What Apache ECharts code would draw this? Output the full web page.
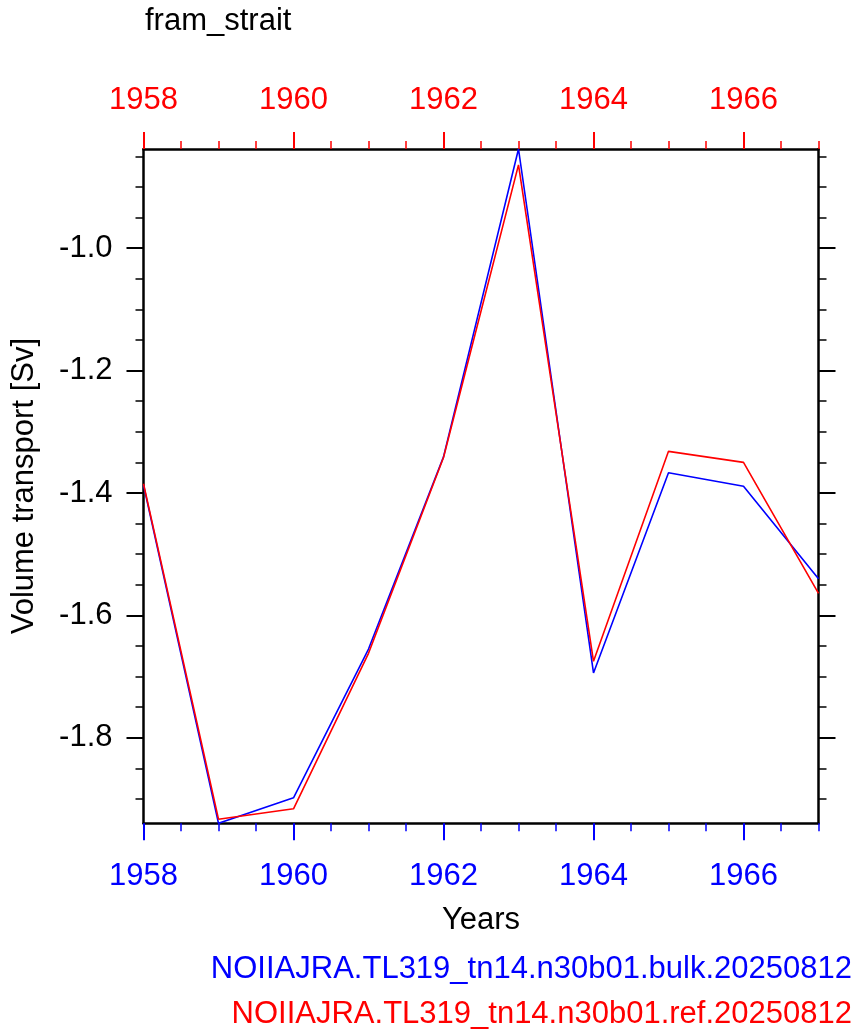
<!DOCTYPE html>
<html>
<head>
<meta charset="utf-8">
<script src="https://cdn.jsdelivr.net/npm/echarts@6/dist/echarts.min.js"></script>
<style>
  html, body { margin: 0; padding: 0; background: #fff; }
  #chart { width: 858px; height: 1035px; }
</style>
</head>
<body>
<div id="chart"></div>
<script>
// 年份
var years = [1958, 1959, 1960, 1961, 1962, 1963, 1964, 1965, 1966, 1967];
// bulk run (blue)
var bulkData = [-1.387, -1.9397, -1.898, -1.655, -1.341, -0.838, -1.694, -1.367, -1.389, -1.540];
// ref run (red)
var refData = [-1.385, -1.933, -1.916, -1.662, -1.342, -0.864, -1.675, -1.332, -1.350, -1.564];
// tick labels
var xMajorTicks = [1958, 1960, 1962, 1964, 1966];
var xMinorTicks = [1958.5, 1959, 1959.5, 1960.5, 1961, 1961.5, 1962.5, 1963, 1963.5, 1964.5, 1965, 1965.5, 1966.5, 1967];
var yMajorTicks = [-1.8, -1.6, -1.4, -1.2, -1.0];
var yMinorTicks = [-1.9, -1.85, -1.75, -1.7, -1.65, -1.55, -1.5, -1.45, -1.35, -1.3, -1.25, -1.15, -1.1, -1.05, -0.95, -0.9, -0.85];
var bulkName = 'NOIIAJRA.TL319_tn14.n30b01.bulk.20250812';
var refName = 'NOIIAJRA.TL319_tn14.n30b01.ref.20250812';

(function () {
  var chartDom = document.getElementById('chart');
  var myChart = echarts.init(chartDom);
  var font = "'Liberation Sans', Helvetica, Arial, sans-serif";
  var fs = 31;
  var yMin = Math.min.apply(null, bulkData.concat(refData));
  var yMax = Math.max.apply(null, bulkData.concat(refData));
  var xMin = years[0], xMax = years[years.length - 1];

  function pairs(arr) {
    return years.map(function (y, i) { return [y, arr[i]]; });
  }

  function xAxisDef(pos, color, len, ticks, labels, line, margin) {
    return {
      type: 'value', position: pos, min: xMin, max: xMax,
      splitLine: { show: false },
      axisLine: { show: line, onZero: false, lineStyle: { color: '#000', width: 2.5 } },
      axisTick: { show: true, length: len, customValues: ticks, lineStyle: { color: color, width: len > 10 ? 2 : 1.5 } },
      axisLabel: labels ? {
        show: true, customValues: ticks, margin: margin, color: color, fontSize: fs, fontFamily: font,
        formatter: function (v) { return String(Math.round(v)); }
      } : { show: false }
    };
  }

  function yAxisDef(pos, len, ticks, labels, line) {
    return {
      type: 'value', position: pos, min: yMin, max: yMax,
      splitLine: { show: false },
      axisLine: { show: line, onZero: false, lineStyle: { color: '#000', width: 2.5 } },
      axisTick: { show: true, length: len, customValues: ticks, lineStyle: { color: '#000', width: len > 10 ? 2 : 1.5 } },
      axisLabel: labels ? {
        show: true, customValues: ticks, margin: 31, color: '#000', fontSize: fs, fontFamily: font,
        formatter: function (v) { return v.toFixed(1); }
      } : { show: false }
    };
  }

  var bottomMajor = xAxisDef('bottom', '#0000ff', 17, xMajorTicks, true, true, 38);
  bottomMajor.name = 'Years';
  bottomMajor.nameLocation = 'middle';
  bottomMajor.nameGap = 82;
  bottomMajor.nameTextStyle = { color: '#000', fontSize: fs, fontFamily: font };

  var leftMajor = yAxisDef('left', 17, yMajorTicks, true, true);
  leftMajor.name = 'Volume transport [Sv]';
  leftMajor.nameLocation = 'middle';
  leftMajor.nameGap = 104;
  leftMajor.nameTextStyle = { color: '#000', fontSize: fs, fontFamily: font };

  var option = {
    backgroundColor: '#fff',
    animation: false,
    title: [
      { text: 'fram_strait', left: 140, top: 1, textStyle: { color: '#000', fontSize: fs, fontWeight: 'normal', fontFamily: font } },
      { text: bulkName, right: 1, top: 949, textStyle: { color: '#0000ff', fontSize: fs, fontWeight: 'normal', fontFamily: font } },
      { text: refName, right: 1, top: 994, textStyle: { color: '#ff0000', fontSize: fs, fontWeight: 'normal', fontFamily: font } }
    ],
    grid: { left: 143.5, right: 39.5, top: 149, height: 674.3, containLabel: false },
    xAxis: [
      bottomMajor,
      xAxisDef('bottom', '#0000ff', 8, xMinorTicks, false, false, 0),
      xAxisDef('top', '#ff0000', 17, xMajorTicks, true, true, 33),
      xAxisDef('top', '#ff0000', 8, xMinorTicks, false, false, 0)
    ],
    yAxis: [
      leftMajor,
      yAxisDef('left', 8, yMinorTicks, false, false),
      yAxisDef('right', 17, yMajorTicks, false, true),
      yAxisDef('right', 8, yMinorTicks, false, false)
    ],
    series: [
      {
        name: 'bulk', type: 'line', xAxisIndex: 0, yAxisIndex: 0,
        data: pairs(bulkData), showSymbol: false, symbol: 'none',
        lineStyle: { color: '#0000ff', width: 1.6 }
      },
      {
        name: 'ref', type: 'line', xAxisIndex: 0, yAxisIndex: 0,
        data: pairs(refData), showSymbol: false, symbol: 'none',
        lineStyle: { color: '#ff0000', width: 1.6 }
      }
    ]
  };

  option && myChart.setOption(option);
})();
</script>
</body>
</html>
